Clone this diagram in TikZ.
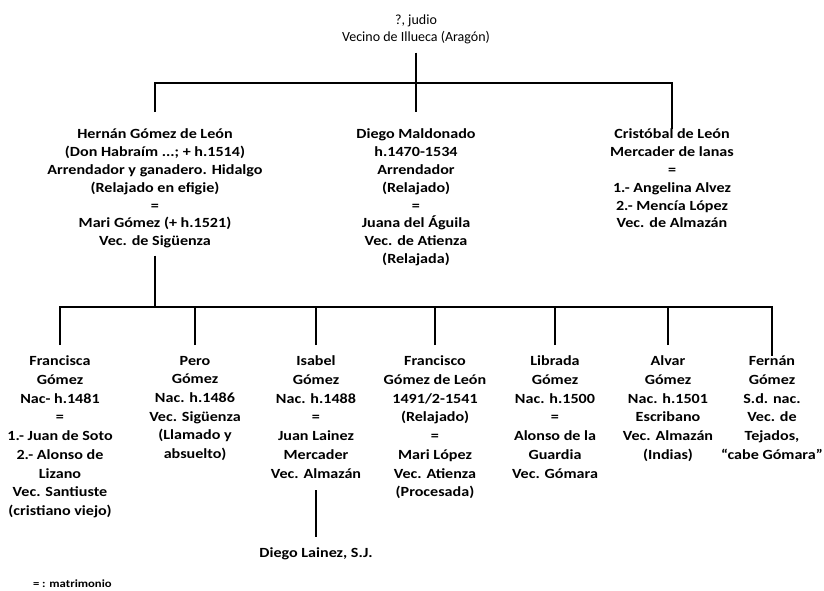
\documentclass[tikz,border=0pt]{standalone}
\usepackage{fontspec}
\setmainfont{Carlito}[BoldFeatures={FakeStretch=1.15}]
\usetikzlibrary{positioning,calc}

\begin{document}
\begin{tikzpicture}[
    x=1pt, y=1pt,
    textbox/.style={align=center, anchor=north, inner sep=0pt, outer sep=0pt, execute at begin node={\rule{0pt}{11pt}}},
    person/.style={textbox, font=\bfseries\fontsize{14}{17.8}\selectfont},
    child/.style={textbox, font=\bfseries\fontsize{14}{18.7}\selectfont},
    rootbox/.style={textbox, font=\fontsize{14}{17}\selectfont},
    link/.style={draw, line width=1.6pt}
]
\useasboundingbox (0,0) rectangle (824,-590);

% Root
\node [rootbox] (root) at (416,-15) {?, judio\\Vecino de Illueca (Aragón)};

% Second generation
\node [person] (hernan) at (155,-129) {Hernán Gómez de León\\(Don Habraím ...; + h.1514)\\Arrendador y ganadero. Hidalgo\\(Relajado en efigie)\\=\\Mari Gómez (+ h.1521)\\Vec. de Sigüenza};
\node [person] (diego) at (416,-129) {Diego Maldonado\\h.1470-1534\\Arrendador\\(Relajado)\\=\\Juana del Águila\\Vec. de Atienza\\(Relajada)};
\node [person] (cristobal) at (672,-129) {Cristóbal de León\\Mercader de lanas\\=\\1.- Angelina Alvez\\2.- Mencía López\\Vec. de Almazán};

% Third generation
\node [child] (francisca) at (60,-356) {Francisca\\Gómez\\Nac- h.1481\\=\\1.- Juan de Soto\\2.- Alonso de\\Lizano\\Vec. Santiuste\\(cristiano viejo)};
\node [child] (pero) at (195,-356) {Pero\\Gómez\\Nac. h.1486\\Vec. Sigüenza\\(Llamado y\\absuelto)};
\node [child] (isabel) at (316,-356) {Isabel\\Gómez\\Nac. h.1488\\=\\Juan Lainez\\Mercader\\Vec. Almazán};
\node [child] (francisco) at (435,-356) {Francisco\\Gómez de León\\1491/2-1541\\(Relajado)\\=\\Mari López\\Vec. Atienza\\(Procesada)};
\node [child] (librada) at (555,-356) {Librada\\Gómez\\Nac. h.1500\\=\\Alonso de la\\Guardia\\Vec. Gómara};
\node [child] (alvar) at (668,-356) {Alvar\\Gómez\\Nac. h.1501\\Escribano\\Vec. Almazán\\(Indias)};
\node [child] (fernan) at (772,-356) {Fernán\\Gómez\\S.d. nac.\\Vec. de\\Tejados,\\``cabe Gómara''};

% Fourth generation
\node [person] (lainez) at (316,-546) {Diego Lainez, S.J.};

% Legend
\node [person, anchor=base west, font=\bfseries\fontsize{11}{12}\selectfont] (legend) at (33,-587) {= : matrimonio};

% Connections
\coordinate (bar1) at (416,-83);
\coordinate (bar2) at (416,-307);

\draw [link, shorten <=8.5pt, shorten >=17pt] (root.south) -- (diego.north);
\draw [link, shorten <=17pt] (hernan.north) -- (hernan.north |- bar1) -- (cristobal.north |- bar1) -- (cristobal.north);

\draw [link, shorten <=7.5pt] (hernan.south) -- (hernan.south |- bar2);
\draw [link, shorten <=11pt] (francisca.north) -- (francisca.north |- bar2) -- (fernan.north |- bar2) -- (fernan.north);
\foreach \n in {pero,isabel,francisco,librada,alvar}
    \draw [link, shorten <=11pt] (\n.north) -- (\n.north |- bar2);

\draw [link, shorten <=12pt, shorten >=9pt] (isabel.south) -- (lainez.north);

\end{tikzpicture}
\end{document}
